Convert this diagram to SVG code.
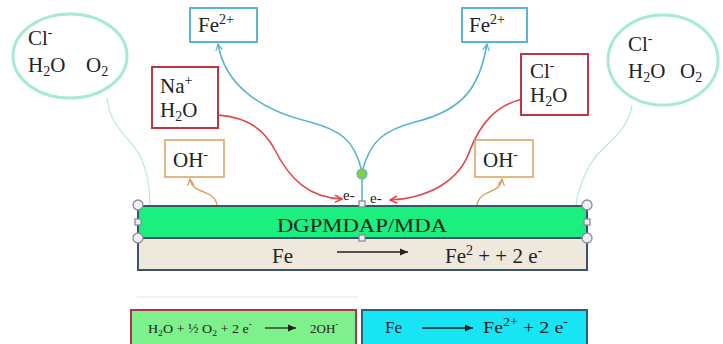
<svg xmlns="http://www.w3.org/2000/svg" width="723" height="344" viewBox="0 0 723 344">
<style>
text{font-family:"Liberation Serif","Times New Roman",serif;fill:#222;}
.t18{font-size:21px;}
.ell{fill:#fff;stroke:#a6ead6;stroke-width:3;}
.blue{fill:#fff;stroke:#5ab4d2;stroke-width:2;}
.red{fill:#fff;stroke:#c23444;stroke-width:2;}
.org{fill:#fff;stroke:#d9a25e;stroke-width:1.5;}
.handle{fill:#eef0f6;stroke:#8a8c9c;stroke-width:1.3;}
.cb{fill:none;stroke:#5ab4d6;stroke-width:1.6;}
.cr{fill:none;stroke:#e0484c;stroke-width:1.6;}
.co{fill:none;stroke:#d9a060;stroke-width:1.4;}
.cm{fill:none;stroke:#b4ecdc;stroke-width:1.2;}
</style>
<defs>
<marker id="ab" viewBox="0 0 10 10" refX="9" refY="5" markerWidth="8" markerHeight="8" orient="auto" markerUnits="userSpaceOnUse"><path d="M1,1 L9,5 L1,9" fill="none" stroke="#5ab4d6" stroke-width="1.6"/></marker>
<marker id="ar" viewBox="0 0 10 10" refX="9" refY="5" markerWidth="9" markerHeight="9" orient="auto" markerUnits="userSpaceOnUse"><path d="M1,1 L9,5 L1,9" fill="none" stroke="#e0484c" stroke-width="1.8"/></marker>
<marker id="ao" viewBox="0 0 10 10" refX="9" refY="5" markerWidth="8" markerHeight="8" orient="auto" markerUnits="userSpaceOnUse"><path d="M1,1 L9,5 L1,9" fill="none" stroke="#d9a060" stroke-width="1.6"/></marker>
<marker id="ak" viewBox="0 0 10 10" refX="9" refY="5" markerWidth="9" markerHeight="9" orient="auto" markerUnits="userSpaceOnUse"><path d="M0,1 L9,5 L0,9 Z" fill="#222"/></marker>
</defs>
<rect width="723" height="344" fill="#fff"/>

<g id="connectors">
<path class="cm" d="M107,98 C110,130 135,140 142,160 C148,175 150,190 150,205"/>
<path class="cm" d="M632,105 C628,135 600,145 590,165 C582,180 578,190 576,205"/>
<path class="cb" d="M362,172 C355,140 340,130 310,122 C260,110 225,85 218,44" marker-end="url(#ab)"/>
<path class="cb" d="M362,172 C370,140 385,130 415,122 C465,110 480,85 487,44" marker-end="url(#ab)"/>
<path class="cb" d="M362,178 L362,202"/>
<path class="cr" d="M195,115 C240,112 262,125 275,150 C290,180 310,198 342,199" marker-end="url(#ar)"/>
<path class="cr" d="M523,99 C495,105 480,125 470,150 C460,180 430,198 390,200" marker-end="url(#ar)"/>
<path class="co" d="M217,205 C214,188 192,195 190,179" marker-end="url(#ao)"/>
<path class="co" d="M477,205 C480,188 500,195 502,179" marker-end="url(#ao)"/>
</g>

<g id="ellipse-left">
<ellipse class="ell" cx="70" cy="56" rx="57" ry="42"/>
<text class="t18" x="28" y="45">Cl<tspan font-size="14" dy="-8">-</tspan></text>
<text class="t18" x="28" y="72">H<tspan font-size="14" dy="4">2</tspan><tspan dy="-4">O</tspan></text>
<text class="t18" x="86" y="72">O<tspan font-size="14" dy="4">2</tspan></text>
</g>

<g id="ellipse-right">
<ellipse class="ell" cx="663" cy="60" rx="55" ry="45"/>
<text class="t18" x="628" y="51">Cl<tspan font-size="14" dy="-8">-</tspan></text>
<text class="t18" x="628" y="78">H<tspan font-size="14" dy="4">2</tspan><tspan dy="-4">O</tspan></text>
<text class="t18" x="680" y="78">O<tspan font-size="14" dy="4">2</tspan></text>
</g>

<g id="fe-left">
<rect class="blue" x="190" y="8" width="67" height="34"/>
<text class="t18" x="198" y="32">Fe<tspan font-size="14" dy="-8">2+</tspan></text>
</g>
<g id="fe-right">
<rect class="blue" x="462" y="8" width="65" height="34"/>
<text class="t18" x="469" y="32">Fe<tspan font-size="14" dy="-8">2+</tspan></text>
</g>

<g id="na-box">
<rect class="red" x="152" y="67" width="66" height="61"/>
<text class="t18" x="160" y="93">Na<tspan font-size="14" dy="-8">+</tspan></text>
<text class="t18" x="160" y="117">H<tspan font-size="14" dy="4">2</tspan><tspan dy="-4">O</tspan></text>
</g>
<g id="cl-box">
<rect class="red" x="521" y="54" width="67" height="61"/>
<text class="t18" x="530" y="78">Cl<tspan font-size="14" dy="-8">-</tspan></text>
<text class="t18" x="530" y="102">H<tspan font-size="14" dy="4">2</tspan><tspan dy="-4">O</tspan></text>
</g>

<g id="oh-left">
<rect class="org" x="165" y="140" width="59" height="37"/>
<text class="t18" x="173" y="167">OH<tspan font-size="14" dy="-8">-</tspan></text>
</g>
<g id="oh-right">
<rect class="org" x="475" y="140" width="58" height="37"/>
<text class="t18" x="483" y="167">OH<tspan font-size="14" dy="-8">-</tspan></text>
</g>

<g id="junction">
<circle cx="362" cy="174" r="5" fill="#7ed43a" stroke="#5ab4d6" stroke-width="1.2"/>
<text x="343" y="200" font-size="15">e-</text>
<text x="370" y="203" font-size="15">e-</text>
</g>

<g id="coating">
<rect x="138" y="206" width="449" height="32" fill="#1aef80" stroke="#3d5468" stroke-width="2"/>
<text x="277" y="232" font-size="19" textLength="170" lengthAdjust="spacingAndGlyphs">DGPMDAP/MDA</text>
</g>
<g id="iron">
<rect x="138" y="238" width="449" height="32" fill="#efe8dc" stroke="#3d5468" stroke-width="2"/>
<text x="272" y="263" font-size="21">Fe</text>
<line x1="337" y1="252" x2="408" y2="252" stroke="#222" stroke-width="1.3" marker-end="url(#ak)"/>
<text x="445" y="263" font-size="21">Fe<tspan font-size="14" dy="-8">2</tspan><tspan dy="8"> + + 2 e</tspan><tspan font-size="14" dy="-8">-</tspan></text>
</g>

<g id="handles">
<circle class="handle" cx="138" cy="205" r="5"/>
<circle class="handle" cx="587" cy="205" r="5"/>
<circle class="handle" cx="138" cy="238" r="5"/>
<circle class="handle" cx="587" cy="238" r="5"/>
<rect class="handle" x="135" y="219" width="6" height="6"/>
<rect class="handle" x="584" y="219" width="6" height="6"/>
<rect class="handle" x="359" y="201" width="6" height="6"/>
<rect class="handle" x="359" y="235" width="6" height="6"/>
</g>

<line x1="137" y1="297" x2="358" y2="297" stroke="#eeeeee" stroke-width="1.5"/>

<g id="cathodic">
<rect x="131" y="310" width="225" height="36" fill="#7ef08c" stroke="#b0304a" stroke-width="2"/>
<text x="148" y="333" font-size="13" textLength="104" lengthAdjust="spacingAndGlyphs">H<tspan font-size="9" dy="3">2</tspan><tspan dy="-3">O + ½ O</tspan><tspan font-size="9" dy="3">2</tspan><tspan dy="-3"> + 2 e</tspan><tspan font-size="9" dy="-6">-</tspan></text>
<line x1="265" y1="328" x2="296" y2="328" stroke="#222" stroke-width="1.3" marker-end="url(#ak)"/>
<text x="310" y="333" font-size="13">2OH<tspan font-size="9" dy="-6">-</tspan></text>
</g>
<g id="anodic">
<rect x="362" y="310" width="225" height="36" fill="#19e4f4" stroke="#2a5e7a" stroke-width="2"/>
<text x="385" y="333" font-size="17">Fe</text>
<line x1="422" y1="328" x2="473" y2="328" stroke="#222" stroke-width="1.3" marker-end="url(#ak)"/>
<text x="483" y="333" font-size="17" textLength="85" lengthAdjust="spacingAndGlyphs">Fe<tspan font-size="12" dy="-7">2+</tspan><tspan dy="7"> + 2 e</tspan><tspan font-size="12" dy="-7">-</tspan></text>
</g>
</svg>
